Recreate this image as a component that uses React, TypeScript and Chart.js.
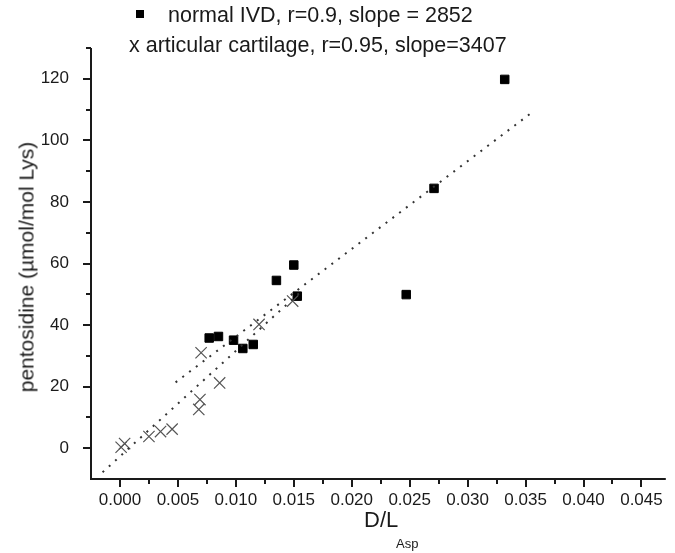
import React, { useEffect, useRef } from 'react';
import { Chart, registerables } from 'chart.js';

Chart.register(...registerables);

// normal IVD (filled squares)
const ivdX = [0.0077, 0.0085, 0.0098, 0.0106, 0.0115, 0.0135, 0.0150, 0.0153, 0.0247, 0.0271, 0.0332];
const ivdY = [35.8, 36.3, 35.1, 32.4, 33.7, 54.5, 59.5, 49.4, 49.9, 84.4, 119.8];

// articular cartilage (crosses)
const cartX = [0.0001, 0.0004, 0.0025, 0.0035, 0.0045, 0.0068, 0.0069, 0.0070, 0.0086, 0.0120, 0.0149];
const cartY = [0.3, 1.5, 3.8, 5.4, 6.2, 12.6, 15.8, 31.0, 21.2, 40.2, 47.8];

// dotted regression lines (end points)
const ivdFitX = [0.0048, 0.0357];
const ivdFitY = [21.4, 109.5];
const cartFitX = [-0.0015, 0.0158];
const cartFitY = [-7.8, 51.5];

// ticks
const xMajorTicks = [0, 0.005, 0.01, 0.015, 0.02, 0.025, 0.03, 0.035, 0.04, 0.045];
const xMinorTicks = [0.0025, 0.0075, 0.0125, 0.0175, 0.0225, 0.0275, 0.0325, 0.0375, 0.0425];
const yMajorTicks = [0, 20, 40, 60, 80, 100, 120];
const yMinorTicks = [10, 30, 50, 70, 90, 110, 130];

const legendIVD = 'normal IVD, r=0.9, slope = 2852';
const legendCart = 'x articular cartilage, r=0.95, slope=3407';
const yTitle = 'pentosidine (\u00B5mol/mol Lys)';
const xTitleMain = 'D/L';
const xTitleSub = 'Asp';

const FONT = '"Liberation Sans", Arial, Helvetica, sans-serif';
const INK = '#1a1a1a';

const axesPlugin = {
  id: 'originAxes',
  afterDraw(chart: any) {
    const { ctx, chartArea } = chart;
    const { left, right, top, bottom } = chartArea;
    const xs = chart.scales.x;
    const ys = chart.scales.y;
    ctx.save();
    ctx.strokeStyle = INK;
    ctx.lineWidth = 2;
    ctx.beginPath();
    ctx.moveTo(left, top);
    ctx.lineTo(left, bottom);
    ctx.lineTo(right, bottom);
    ctx.stroke();
    ctx.lineWidth = 2;
    ctx.beginPath();
    xMajorTicks.forEach((v) => {
      const p = Math.round(xs.getPixelForValue(v));
      ctx.moveTo(p, bottom);
      ctx.lineTo(p, bottom + 8);
    });
    xMinorTicks.forEach((v) => {
      const p = Math.round(xs.getPixelForValue(v));
      ctx.moveTo(p, bottom);
      ctx.lineTo(p, bottom + 5);
    });
    yMajorTicks.forEach((v) => {
      const p = Math.round(ys.getPixelForValue(v));
      ctx.moveTo(left, p);
      ctx.lineTo(left - 8, p);
    });
    yMinorTicks.forEach((v) => {
      const p = Math.round(ys.getPixelForValue(v));
      ctx.moveTo(left, p);
      ctx.lineTo(left - 5, p);
    });
    ctx.stroke();
    ctx.restore();
  },
};

export default function App() {
  const canvasRef = useRef<HTMLCanvasElement | null>(null);

  useEffect(() => {
    const canvas = canvasRef.current;
    if (!canvas) return;
    const chart = new Chart(canvas, {
      type: 'scatter',
      data: {
        datasets: [
          {
            label: 'normal IVD fit',
            data: ivdFitX.map((x, i) => ({ x, y: ivdFitY[i] })),
            showLine: true,
            pointRadius: 0,
            borderColor: '#333',
            borderWidth: 2,
            borderDash: [2, 6.5],
            fill: false,
          },
          {
            label: 'articular cartilage fit',
            data: cartFitX.map((x, i) => ({ x, y: cartFitY[i] })),
            showLine: true,
            pointRadius: 0,
            borderColor: '#333',
            borderWidth: 2,
            borderDash: [2, 6.5],
            fill: false,
          },
          {
            label: 'articular cartilage',
            data: cartX.map((x, i) => ({ x, y: cartY[i] })),
            pointStyle: 'crossRot',
            pointRadius: 8,
            borderColor: '#555',
            borderWidth: 1.2,
            backgroundColor: '#555',
          },
          {
            label: 'normal IVD',
            data: ivdX.map((x, i) => ({ x, y: ivdY[i] })),
            pointStyle: 'rect',
            pointRadius: 6,
            borderColor: '#000',
            borderWidth: 1,
            backgroundColor: '#000',
          },
        ],
      },
      options: {
        animation: false,
        responsive: false,
        devicePixelRatio: 1,
        layout: { padding: { top: 48, right: 0, left: 0, bottom: 0 } },
        plugins: {
          legend: { display: false },
          title: { display: false },
          tooltip: { enabled: false },
        },
        scales: {
          x: {
            type: 'linear',
            min: -0.0025,
            max: 0.0471,
            grid: { display: false },
            border: { display: false },
            afterBuildTicks: (scale: any) => {
              scale.ticks = xMajorTicks.map((v) => ({ value: v }));
            },
            afterFit: (scale: any) => {
              scale.height = 74;
            },
            ticks: {
              padding: 3,
              color: INK,
              font: { family: FONT, size: 17 },
              maxRotation: 0,
              autoSkip: false,
              callback: (v: any) => Number(v).toFixed(3),
            },
          },
          y: {
            type: 'linear',
            min: -10,
            max: 130,
            grid: { display: false },
            border: { display: false },
            afterBuildTicks: (scale: any) => {
              scale.ticks = yMajorTicks.map((v) => ({ value: v }));
            },
            afterFit: (scale: any) => {
              scale.width = 91;
            },
            ticks: {
              padding: 14,
              color: INK,
              font: { family: FONT, size: 17 },
              autoSkip: false,
              callback: (v: any) => String(v),
            },
          },
        },
      },
      plugins: [axesPlugin],
    });
    return () => chart.destroy();
  }, []);

  const txt: React.CSSProperties = {
    position: 'absolute',
    fontFamily: FONT,
    color: INK,
    whiteSpace: 'nowrap',
  };

  return (
    <div style={{ position: 'absolute', left: 0, top: 0, width: 675, height: 553, background: '#fff', overflow: 'hidden' }}>
      <canvas ref={canvasRef} width={675} height={553} style={{ position: 'absolute', left: 0, top: 0, width: 675, height: 553 }} />
      <div style={{ position: 'absolute', left: 136, top: 10, width: 8, height: 8, background: '#000' }} />
      <div style={{ ...txt, left: 168, top: 5, fontSize: 21.5, lineHeight: '21.5px' }}>{legendIVD}</div>
      <div style={{ ...txt, left: 129, top: 35, fontSize: 21.5, lineHeight: '21.5px' }}>{legendCart}</div>
      <div
        style={{
          ...txt,
          left: 26,
          top: 267,
          fontSize: 21,
          lineHeight: '21px',
          transform: 'translate(-50%, -50%) rotate(-90deg)',
        }}
      >
        {yTitle}
      </div>
      <div style={{ ...txt, left: 364, top: 509, fontSize: 22, lineHeight: '22px' }}>D/L</div>
      <div style={{ ...txt, left: 396, top: 537, fontSize: 13, lineHeight: '13px' }}>{xTitleSub}</div>
    </div>
  );
}
